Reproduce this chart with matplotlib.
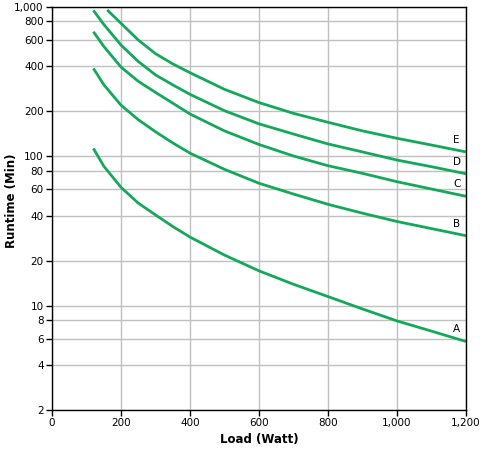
import matplotlib
matplotlib.use("Agg")
import matplotlib.pyplot as plt
from matplotlib.ticker import FixedLocator, FuncFormatter, NullLocator

# Data (Load in W, Runtime in min)
load_ABCD = [120, 150, 200, 250, 300, 350, 400, 500, 600, 700, 800, 900, 1000, 1100, 1200]
run_A = [113, 86, 62, 48.6, 40.5, 33.9, 28.8, 21.8, 17.1, 13.9, 11.5, 9.5, 7.9, 6.75, 5.75]
run_B = [388, 302, 220, 176, 146, 123, 105, 81.8, 66, 55.9, 47.7, 41.6, 36.6, 32.8, 29.4]
run_C = [683, 545, 396, 318, 268, 227, 192, 148, 120, 100.5, 86.5, 76.9, 67.6, 60.4, 54]
run_D = [950, 765, 556, 432, 351, 301, 260, 202, 165, 141, 121, 107, 94.4, 85.2, 76.4]
load_E = [160, 200, 250, 300, 350, 400, 500, 600, 700, 800, 900, 1000, 1100, 1200]
run_E = [955, 778, 601, 487, 416, 363, 281, 229, 194, 169, 148, 132, 119, 107]

series_names = ["A", "B", "C", "D", "E"]
label_pos_y = [6.97, 35.2, 65.2, 91.6, 128]
label_pos_x = 1173

x_ticks = [0, 200, 400, 600, 800, 1000, 1200]
y_ticks = [2, 4, 6, 8, 10, 20, 40, 60, 80, 100, 200, 400, 600, 800, 1000]

line_color = "#14a85a"

fig = plt.figure(figsize=(4.8, 4.5), dpi=100)
ax = fig.add_axes([52/480, 1 - 410/450, (466-52)/480, (410-7)/450])

loads = [load_ABCD, load_ABCD, load_ABCD, load_ABCD, load_E]
runs = [run_A, run_B, run_C, run_D, run_E]
for xs, ys in zip(loads, runs):
    ax.plot(xs, ys, color=line_color, lw=2, solid_capstyle="butt", solid_joinstyle="round")

for name, yv in zip(series_names, label_pos_y):
    ax.text(label_pos_x, yv, name, ha="center", va="center", fontsize=7.5, color="black")

ax.set_yscale("log")
ax.set_xlim(0, 1200)
ax.set_ylim(2, 1000)
ax.xaxis.set_major_locator(FixedLocator(x_ticks))
ax.yaxis.set_major_locator(FixedLocator(y_ticks))
ax.yaxis.set_minor_locator(NullLocator())
fmt = FuncFormatter(lambda v, p: f"{int(round(v)):,}")
ax.xaxis.set_major_formatter(fmt)
ax.yaxis.set_major_formatter(fmt)
ax.tick_params(axis="both", direction="out", length=4, width=1, labelsize=7.5, pad=2, color="black")
ax.grid(True, which="major", color="#c0c0c0", lw=1)
ax.set_axisbelow(True)
for s in ax.spines.values():
    s.set_color("black")
    s.set_linewidth(1)

ax.set_xlabel("Load (Watt)", fontsize=8.5, fontweight="bold", labelpad=3)
ax.set_ylabel("Runtime (Min)", fontsize=8.5, fontweight="bold")
ax.yaxis.set_label_coords(-0.083, 0.52)

fig.savefig("out.png", dpi=100)
